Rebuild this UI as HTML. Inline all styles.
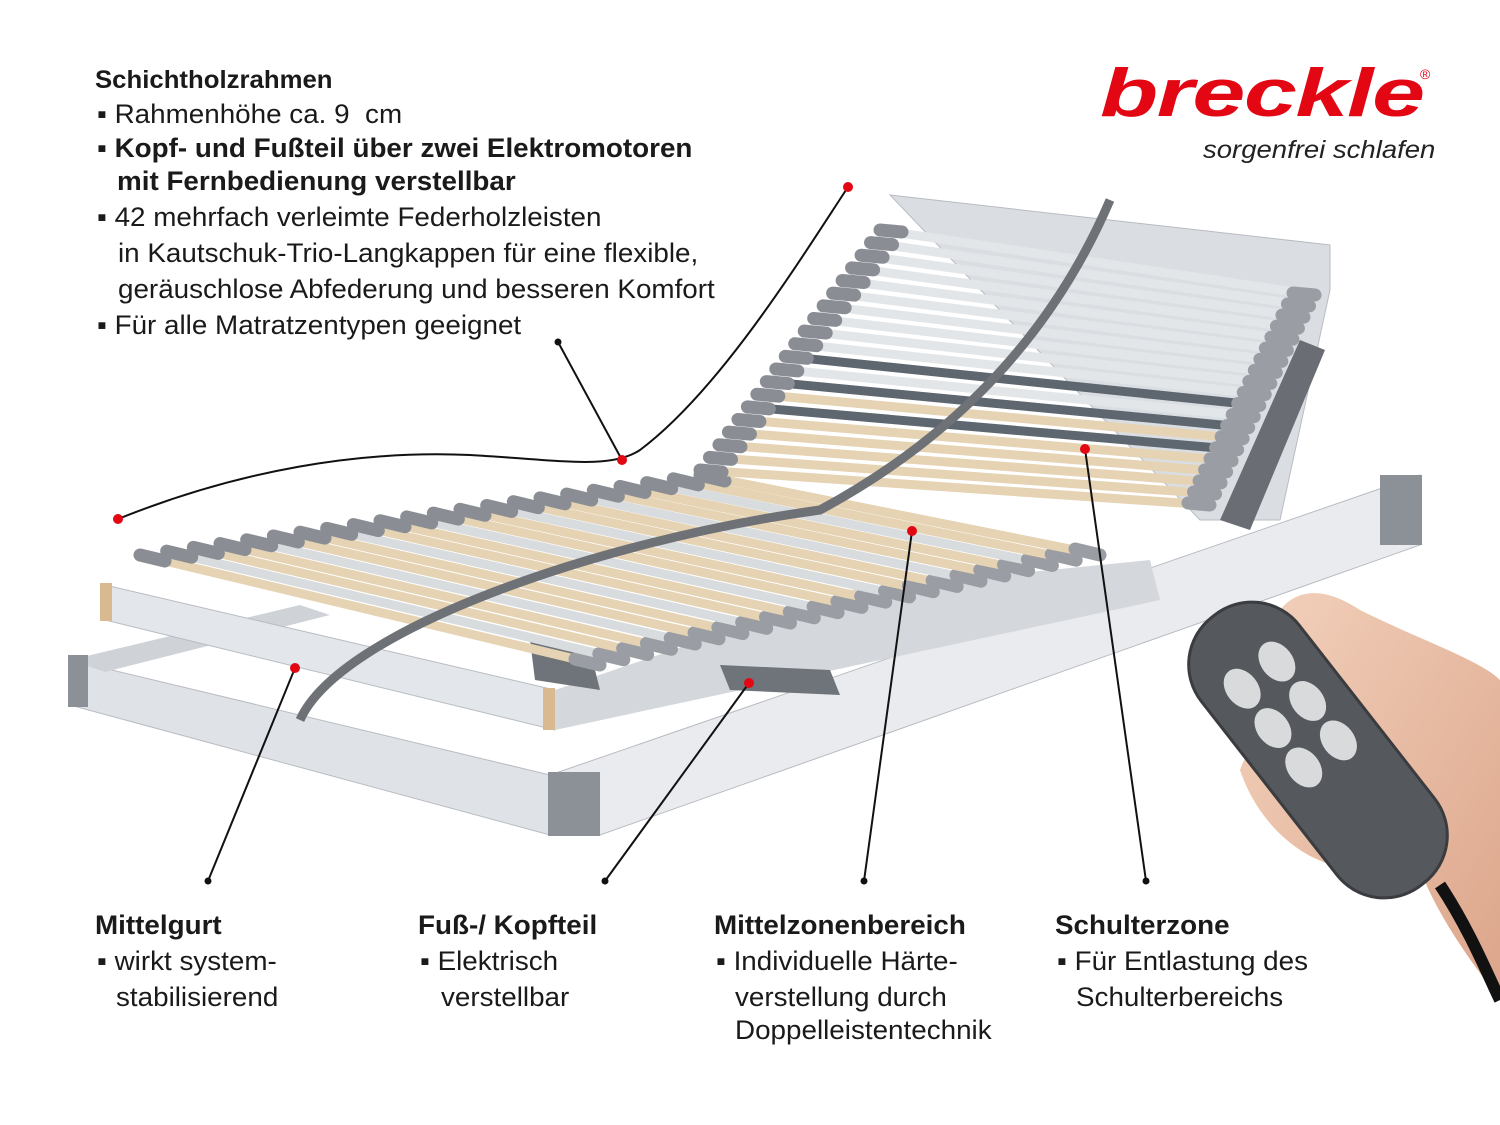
<!DOCTYPE html>
<html><head><meta charset="utf-8"><style>
body{margin:0;width:1500px;height:1125px;background:#fff;position:relative;overflow:hidden;font-family:"Liberation Sans",sans-serif;color:#1a1a1a}
.t{position:absolute;font-size:27px;line-height:36px;white-space:nowrap;transform:scaleX(1.03);transform-origin:left}
b{font-weight:bold}
</style></head><body>
<svg width="1500" height="1125" style="position:absolute;left:0;top:0">
<defs>
<linearGradient id="sk" x1="0" y1="0" x2="1" y2="1"><stop offset="0" stop-color="#f3d2bd"/><stop offset="1" stop-color="#dca58a"/></linearGradient>
</defs>
<polygon points="70,660 550,775 550,835 70,705" fill="#dfe2e6" stroke="#b8bcc2"/>
<polygon points="550,775 1420,475 1420,545 600,835 550,835" fill="#e9ebee" stroke="#b8bcc2"/>
<polygon points="70,660 300,605 330,615 105,672" fill="#cfd3d8"/>
<rect x="68" y="655" width="20" height="52" fill="#8c9097"/>
<rect x="548" y="772" width="52" height="64" fill="#8c9097"/>
<rect x="1380" y="475" width="42" height="70" fill="#8c9097"/>
<polygon points="105,585 555,690 555,730 105,620" fill="#e3e6ea" stroke="#b8bcc2"/>
<rect x="100" y="583" width="12" height="38" fill="#d9b98f"/>
<rect x="543" y="688" width="12" height="42" fill="#d9b98f"/>
<polygon points="555,690 850,590 1150,560 1160,600 555,730" fill="#d4d8dc"/>
<polygon points="530,640 590,650 600,690 535,680" fill="#6f737a"/>
<polygon points="720,665 830,670 840,695 730,690" fill="#6f737a"/>
<polygon points="890,195 1330,245 1330,290 1280,520 1200,520" fill="#dadde2" stroke="#b8bcc2"/>
<polygon points="1300,340 1325,350 1250,530 1220,520" fill="#6a6e74"/>
<g id="slats"></g>
<g stroke="#111" stroke-width="2" fill="none">
<path d="M118,519 C240,470 360,450 470,455 C560,460 610,470 640,450 C720,390 800,260 848,187"/>
<line x1="558" y1="342" x2="622" y2="460"/>
<line x1="295" y1="668" x2="208" y2="881"/>
<line x1="749" y1="683" x2="605" y2="881"/>
<line x1="912" y1="531" x2="864" y2="881"/>
<line x1="1085" y1="449" x2="1146" y2="881"/>
</g>
<g fill="#e30613">
<circle cx="848" cy="187" r="5"/><circle cx="622" cy="460" r="5"/><circle cx="118" cy="519" r="5"/>
<circle cx="1085" cy="449" r="5"/><circle cx="912" cy="531" r="5"/><circle cx="295" cy="668" r="5"/><circle cx="749" cy="683" r="5"/>
</g>
<g fill="#111"><circle cx="558" cy="342" r="3.5"/><circle cx="208" cy="881" r="3.5"/><circle cx="605" cy="881" r="3.5"/><circle cx="864" cy="881" r="3.5"/><circle cx="1146" cy="881" r="3.5"/></g>
<path d="M1280,610 C1300,585 1330,590 1360,610 C1420,640 1480,660 1500,680 L1500,1000 C1470,960 1440,920 1420,870 C1380,880 1330,870 1300,850 C1270,830 1250,800 1240,770 C1250,740 1280,720 1300,700 Z" fill="url(#sk)"/>
<path d="M1440,885 C1470,930 1490,980 1500,1000" stroke="#111" stroke-width="12" fill="none"/>
<g transform="translate(1318,750) rotate(-38)">
<rect x="-62" y="-170" width="124" height="340" rx="60" fill="#55585d" stroke="#3a3c40" stroke-width="3"/>
<g fill="#d9dadc"><ellipse cx="-22" cy="-95" rx="16" ry="22"/><ellipse cx="22" cy="-95" rx="16" ry="22"/><ellipse cx="-22" cy="-45" rx="16" ry="22"/><ellipse cx="22" cy="-45" rx="16" ry="22"/><ellipse cx="-22" cy="5" rx="16" ry="22"/><ellipse cx="22" cy="5" rx="16" ry="22"/></g>
</g>
</svg>
<script>
var g=document.getElementById('slats'),s='';
function L(a,b,c,d,col,w){s+='<line x1="'+a+'" y1="'+b+'" x2="'+c+'" y2="'+d+'" stroke="'+col+'" stroke-width="'+w+'" stroke-linecap="round"/>';}
for(var i=0;i<22;i++){var t=i/21;var x1=140+t*560,y1=555-t*80,x2=600+t*500,y2=665-t*110;
L(x1,y1,x2,y2,i%3==1?'#d8dcdf':'#e5d3b3',9);L(x1,y1,x1+25,y1+6,'#8a8e94',13);L(x2-25,y2-6,x2,y2,'#9a9ea4',13);}
for(var i=0;i<20;i++){var t=i/19;var x1=700+t*180,y1=470-t*240,x2=1210+t*105,y2=505-t*210;
L(x1,y1,x2,y2,(i>4&&i<11&&i%2)?'#5e6670':(i<8?'#e5d3b3':'#e3e6e9'),9);L(x1,y1,x1+22,y1+2,'#8a8e94',13);L(x2-22,y2-2,x2,y2,'#9a9ea4',13);}
s+='<path d="M300,720 C340,630 600,540 820,510 C950,440 1050,340 1110,200" stroke="#6e7176" stroke-width="9" fill="none"/>';
g.innerHTML=s;
</script>
<div class="t" style="left:95px;top:62px;font-size:25px"><b>Schichtholzrahmen</b></div>
<div class="t" style="left:97px;top:96px">▪ Rahmenhöhe ca. 9&nbsp; cm</div>
<div class="t" style="left:97px;top:130px"><b>▪ Kopf- und Fußteil über zwei Elektromotoren</b></div>
<div class="t" style="left:117px;top:163px"><b>mit Fernbedienung verstellbar</b></div>
<div class="t" style="left:97px;top:199px">▪ 42 mehrfach verleimte Federholzleisten</div>
<div class="t" style="left:118px;top:235px">in Kautschuk-Trio-Langkappen für eine flexible,</div>
<div class="t" style="left:118px;top:271px">geräuschlose Abfederung und besseren Komfort</div>
<div class="t" style="left:97px;top:307px">▪ Für alle Matratzentypen geeignet</div>
<div style="position:absolute;left:1100px;top:54px;font:italic bold 68px 'Liberation Sans',sans-serif;color:#e30613;letter-spacing:-1px;transform:scaleX(1.4);transform-origin:left">breckle</div>
<div style="position:absolute;left:1420px;top:66px;font-size:14px;color:#e30613">®</div>
<div style="position:absolute;left:1203px;top:136px;font:italic 25px 'Liberation Sans',sans-serif;color:#222;transform:scaleX(1.1);transform-origin:left">sorgenfrei schlafen</div>
<div class="t" style="left:95px;top:907px"><b>Mittelgurt</b></div>
<div class="t" style="left:97px;top:943px">▪ wirkt system-</div>
<div class="t" style="left:116px;top:979px">stabilisierend</div>
<div class="t" style="left:418px;top:907px"><b>Fuß-/ Kopfteil</b></div>
<div class="t" style="left:420px;top:943px">▪ Elektrisch</div>
<div class="t" style="left:441px;top:979px">verstellbar</div>
<div class="t" style="left:714px;top:907px"><b>Mittelzonenbereich</b></div>
<div class="t" style="left:716px;top:943px">▪ Individuelle Härte-</div>
<div class="t" style="left:735px;top:979px">verstellung durch</div>
<div class="t" style="left:735px;top:1012px">Doppelleistentechnik</div>
<div class="t" style="left:1055px;top:907px"><b>Schulterzone</b></div>
<div class="t" style="left:1057px;top:943px">▪ Für Entlastung des</div>
<div class="t" style="left:1076px;top:979px">Schulterbereichs</div>
</body></html>
